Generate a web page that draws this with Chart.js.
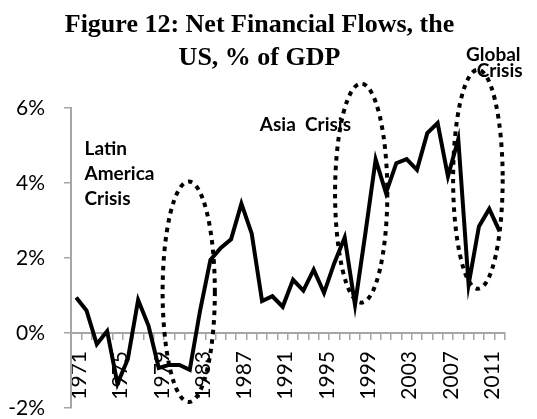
<!DOCTYPE html>
<html>
<head>
<meta charset="utf-8">
<script src="https://cdn.jsdelivr.net/npm/chart.js@4.4.1/dist/chart.umd.min.js"></script>
<style>
  html, body { margin: 0; padding: 0; background: #fff; }
</style>
</head>
<body>
<canvas id="grafico" width="537" height="419"></canvas>
<script>
// Years on the X axis
const anos = ['1971','1972','1973','1974','1975','1976','1977','1978','1979','1980',
              '1981','1982','1983','1984','1985','1986','1987','1988','1989','1990',
              '1991','1992','1993','1994','1995','1996','1997','1998','1999','2000',
              '2001','2002','2003','2004','2005','2006','2007','2008','2009','2010',
              '2011','2012'];

// Net financial flows, % of GDP
const fluxos = [0.95, 0.6, -0.3, 0.05, -1.35, -0.7, 0.88, 0.2, -0.93, -0.85,
                -0.85, -0.98, 0.6, 1.95, 2.27, 2.5, 3.45, 2.65, 0.85, 0.98,
                0.7, 1.42, 1.13, 1.69, 1.07, 1.87, 2.55, 0.75, 2.65, 4.63,
                3.73, 4.53, 4.64, 4.35, 5.33, 5.6, 4.18, 5.17, 1.29, 2.84,
                3.31, 2.71];

// Y tick values
const ticksY = [-2, 0, 2, 4, 6];

// Crisis ellipses: centre (year, %), half width in years, half height in %
const elipseAno = [1981.9, 1998.6, 2009.9];
const elipseValor = [1.1, 3.73, 4.1];
const elipseRaioAnos = [2.53, 2.53, 2.4];
const elipseRaioValor = [2.94, 2.92, 2.92];

// Crisis labels: text, left edge (year), middle (%)
const rotulos = ['Latin', 'America', 'Crisis', 'Asia  Crisis', 'Global', 'Crisis'];
const rotulosAno = [1971.81, 1971.81, 1971.81, 1988.78, 2008.75, 2009.78];
const rotulosValor = [4.91, 4.25, 3.58, 5.55, 7.42, 7.0];

const CINZA = '#a6a6a6';

// draws the dotted ellipses and the crisis labels
const anotacoes = {
    id: 'anotacoes',
    afterDatasetsDraw(chart) {
        const ctx = chart.ctx;
        const x = chart.scales.x;
        const y = chart.scales.y;
        const ano0 = parseInt(anos[0]);

        ctx.save();
        ctx.strokeStyle = '#000';
        ctx.lineWidth = 4;
        ctx.setLineDash([4.5, 5]);
        ctx.lineCap = 'butt';
        for (let i = 0; i < elipseAno.length; i++) {
            const cx = x.getPixelForValue(elipseAno[i] - ano0);
            const cy = y.getPixelForValue(elipseValor[i]);
            const rx = Math.abs(x.getPixelForValue(elipseAno[i] - ano0 + elipseRaioAnos[i]) - cx);
            const ry = Math.abs(y.getPixelForValue(elipseValor[i] + elipseRaioValor[i]) - cy);
            ctx.beginPath();
            ctx.ellipse(cx, cy, rx, ry, 0, 0, Math.PI * 2);
            ctx.stroke();
        }
        ctx.setLineDash([]);

        ctx.fillStyle = '#000';
        ctx.font = 'bold 19px Lato';
        ctx.textAlign = 'left';
        ctx.textBaseline = 'middle';
        for (let i = 0; i < rotulos.length; i++) {
            ctx.fillText(rotulos[i],
                x.getPixelForValue(rotulosAno[i] - ano0),
                y.getPixelForValue(rotulosValor[i]));
        }
        ctx.restore();
    }
};

new Chart(document.getElementById('grafico'), {
    type: 'line',
    data: {
        labels: anos,
        datasets: [{
            data: fluxos,
            borderColor: '#000',
            borderWidth: 4,
            pointRadius: 0,
            tension: 0,
            fill: false
        }]
    },
    options: {
        responsive: false,
        animation: false,
        devicePixelRatio: 1,
        layout: { padding: { left: 0, right: 18, top: 0, bottom: 11 } },
        plugins: {
            legend: { display: false },
            tooltip: { enabled: false },
            title: {
                display: true,
                text: ['Figure 12: Net Financial Flows, the', 'US, % of GDP'],
                color: '#000',
                font: { family: 'Liberation Serif', size: 26, weight: 'bold', lineHeight: 1.27 },
                padding: { top: 9, bottom: 33 }
            }
        },
        scales: {
            x: {
                type: 'category',
                position: { y: 0 },
                offset: true,
                grid: {
                    offset: true,
                    drawOnChartArea: false,
                    drawTicks: true,
                    tickLength: 6,
                    color: CINZA,
                    lineWidth: 1.5
                },
                border: { color: CINZA, width: 2 },
                ticks: {
                    autoSkip: false,
                    maxRotation: 90,
                    minRotation: 90,
                    padding: 12,
                    labelOffset: 3,
                    color: '#000',
                    font: { family: 'Lato', size: 21 },
                    callback: function (v, i) {
                        return i % 4 === 0 ? this.getLabelForValue(v) : '';
                    }
                }
            },
            y: {
                min: -2,
                max: 6,
                afterBuildTicks: (s) => { s.ticks = ticksY.map(v => ({ value: v })); },
                afterFit: (s) => { s.width = 71; s.paddingTop = 0; s.paddingBottom = 0; },
                grid: {
                    drawOnChartArea: false,
                    tickLength: 7,
                    color: CINZA,
                    lineWidth: 1.5
                },
                border: { color: CINZA, width: 2 },
                ticks: {
                    padding: 19,
                    color: '#000',
                    font: { family: 'Lato', size: 21 },
                    callback: (v) => v + '%'
                }
            }
        }
    },
    plugins: [anotacoes]
});
</script>
</body>
</html>
